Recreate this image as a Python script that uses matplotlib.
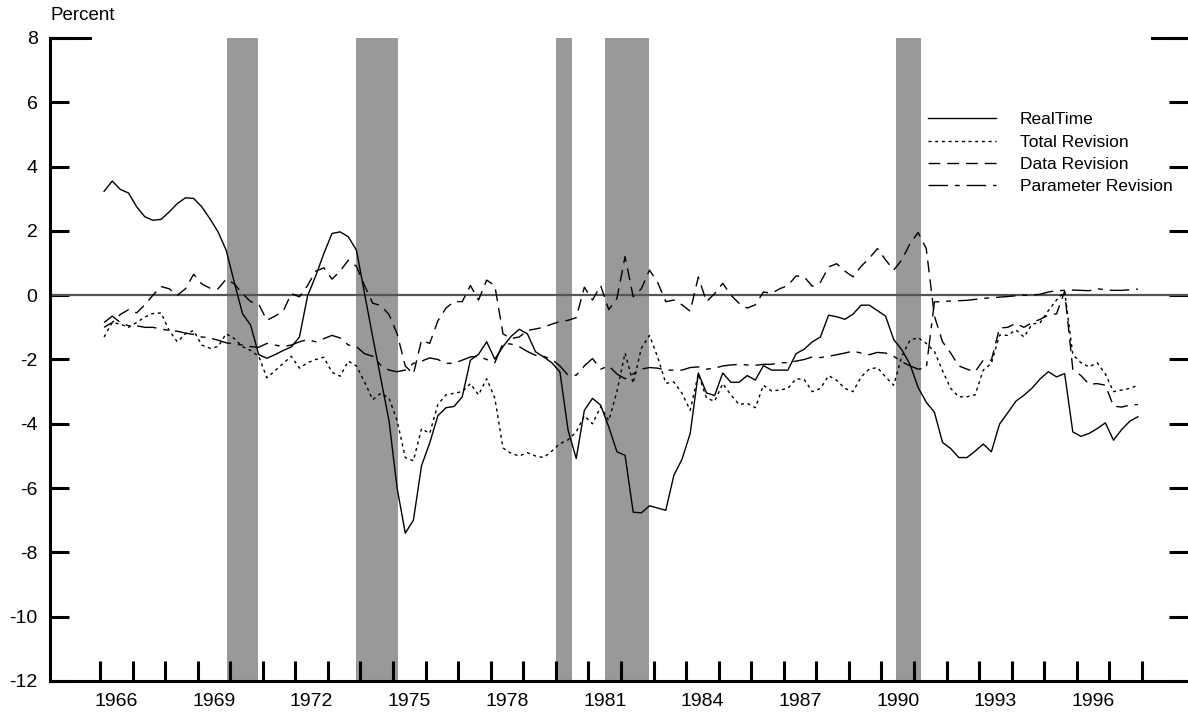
import matplotlib
matplotlib.use("Agg")
import matplotlib.pyplot as plt
import matplotlib.transforms as mtransforms
import numpy as np

plt.rcParams['font.family'] = ['Liberation Sans', 'DejaVu Sans']
plt.rcParams['lines.scale_dashes'] = False

# quarterly data, 1966Q1 - 1997Q4
start_year = 1966

realtime = [3.23, 3.55, 3.29, 3.18, 2.75, 2.44, 2.33, 2.36, 2.59, 2.85, 3.03, 3.01,
            2.75, 2.38, 1.97, 1.40, 0.40, -0.57, -0.93, -1.85, -1.96, -1.85, -1.72, -1.61,
            -1.30, -0.02, 0.60, 1.30, 1.92, 1.97, 1.82, 1.40, 0.05, -1.30, -2.60, -3.90,
            -6.00, -7.40, -7.00, -5.30, -4.60, -3.75, -3.50, -3.46, -3.16, -2.02, -1.84, -1.45,
            -1.99, -1.60, -1.28, -1.06, -1.20, -1.76, -1.92, -2.10, -2.39, -4.20, -5.08, -3.58,
            -3.21, -3.42, -4.10, -4.87, -4.98, -6.75, -6.77, -6.55, -6.62, -6.69, -5.60, -5.10,
            -4.30, -2.42, -3.04, -3.12, -2.42, -2.71, -2.71, -2.50, -2.64, -2.19, -2.33, -2.33,
            -2.33, -1.82, -1.68, -1.45, -1.30, -0.62, -0.67, -0.75, -0.59, -0.31, -0.31, -0.48,
            -0.65, -1.38, -1.70, -2.15, -2.87, -3.33, -3.64, -4.58, -4.77, -5.05, -5.05, -4.85,
            -4.63, -4.87, -4.01, -3.66, -3.30, -3.11, -2.89, -2.60, -2.38, -2.54, -2.44, -4.25,
            -4.39, -4.30, -4.15, -3.97, -4.51, -4.18, -3.92, -3.78]

total_rev = [-1.30, -0.85, -0.90, -1.00, -0.85, -0.68, -0.57, -0.55, -1.10, -1.45, -1.20, -1.10,
             -1.55, -1.65, -1.60, -1.20, -1.35, -1.60, -1.72, -1.90, -2.57, -2.35, -2.12, -1.90,
             -2.27, -2.10, -2.00, -1.93, -2.40, -2.52, -2.05, -2.20, -2.70, -3.25, -3.05, -3.20,
             -3.90, -5.05, -5.15, -4.15, -4.30, -3.40, -3.10, -3.05, -3.00, -2.75, -3.10, -2.60,
             -3.20, -4.75, -4.92, -5.00, -4.90, -5.00, -5.05, -4.85, -4.62, -4.50, -4.25, -3.75,
             -4.00, -3.47, -3.90, -3.00, -1.80, -2.74, -1.65, -1.25, -1.92, -2.74, -2.70, -3.05,
             -3.58, -2.45, -3.20, -3.30, -2.75, -3.10, -3.40, -3.36, -3.50, -2.80, -2.98, -2.95,
             -2.90, -2.60, -2.62, -3.00, -2.90, -2.50, -2.65, -2.90, -3.00, -2.54, -2.30, -2.25,
             -2.54, -2.80, -1.90, -1.40, -1.32, -1.50, -1.75, -2.35, -2.90, -3.16, -3.16, -3.10,
             -2.33, -2.12, -1.24, -1.25, -1.08, -1.30, -0.90, -0.85, -0.48, -0.15, 0.12, -1.85,
             -2.10, -2.23, -2.10, -2.45, -3.00, -2.95, -2.90, -2.80]

data_rev = [-1.00, -0.85, -0.60, -0.45, -0.55, -0.30, 0.00, 0.27, 0.20, 0.00, 0.20, 0.65,
            0.35, 0.22, 0.20, 0.50, 0.35, 0.05, -0.20, -0.28, -0.78, -0.65, -0.50, 0.05,
            -0.05, 0.30, 0.75, 0.85, 0.50, 0.75, 1.09, 0.90, 0.30, -0.25, -0.32, -0.60,
            -1.20, -2.20, -2.45, -1.40, -1.50, -0.80, -0.40, -0.20, -0.20, 0.30, -0.15, 0.47,
            0.30, -1.20, -1.35, -1.30, -1.10, -1.05, -1.00, -0.90, -0.82, -0.78, -0.70, 0.25,
            -0.15, 0.30, -0.45, -0.10, 1.20, -0.05, 0.20, 0.78, 0.40, -0.20, -0.15, -0.30,
            -0.50, 0.57, -0.20, 0.05, 0.37, 0.00, -0.25, -0.40, -0.30, 0.10, 0.06, 0.20,
            0.30, 0.60, 0.57, 0.28, 0.40, 0.88, 0.98, 0.75, 0.57, 0.90, 1.15, 1.45,
            1.10, 0.78, 1.10, 1.60, 1.95, 1.45, -0.65, -1.45, -1.80, -2.20, -2.30, -2.38,
            -2.02, -2.02, -1.02, -1.00, -0.88, -1.00, -0.85, -0.75, -0.62, -0.58, 0.12, -2.30,
            -2.50, -2.77, -2.75, -2.80, -3.45, -3.48, -3.42, -3.40]

param_rev = [-0.85, -0.65, -0.85, -0.95, -0.95, -1.00, -1.00, -1.05, -1.10, -1.12, -1.18, -1.22,
             -1.30, -1.33, -1.40, -1.48, -1.52, -1.55, -1.60, -1.62, -1.50, -1.55, -1.60, -1.55,
             -1.45, -1.38, -1.45, -1.35, -1.25, -1.33, -1.55, -1.60, -1.82, -1.90, -2.18, -2.33,
             -2.38, -2.33, -2.12, -2.05, -1.95, -2.00, -2.12, -2.12, -2.02, -1.92, -1.90, -2.00,
             -2.10, -1.50, -1.52, -1.60, -1.75, -1.87, -1.90, -2.00, -2.20, -2.49, -2.49, -2.20,
             -1.97, -2.30, -2.20, -2.45, -2.60, -2.45, -2.30, -2.25, -2.27, -2.33, -2.33, -2.33,
             -2.25, -2.23, -2.30, -2.27, -2.20, -2.17, -2.15, -2.17, -2.18, -2.15, -2.15, -2.10,
             -2.10, -2.05, -2.00, -1.92, -1.94, -1.90, -1.85, -1.80, -1.74, -1.80, -1.85, -1.78,
             -1.80, -1.90, -2.07, -2.20, -2.30, -2.27, -0.21, -0.20, -0.18, -0.17, -0.16, -0.13,
             -0.10, -0.08, -0.06, -0.04, -0.02, 0.00, 0.00, 0.03, 0.10, 0.14, 0.15, 0.16,
             0.15, 0.14, 0.20, 0.17, 0.15, 0.15, 0.17, 0.19]

recessions = [(1969.9, 1970.85), (1973.85, 1975.15), (1980.0, 1980.5),
              (1981.5, 1982.85), (1990.45, 1991.2)]

label_years = [1966, 1969, 1972, 1975, 1978, 1981, 1984, 1987, 1990, 1993, 1996]
year_ticks = list(range(1966, 1999))
y_ticks = [8, 6, 4, 2, 0, -2, -4, -6, -8, -10, -12]

quarters = start_year + 0.125 + np.arange(len(realtime)) / 4.0

fig = plt.figure(figsize=(11.88, 7.16), dpi=100)
ax = fig.add_axes([50 / 1188, 35 / 716, 1138 / 1188, 643 / 716])

for a, b in recessions:
    ax.axvspan(a, b, color='#999999', lw=0, zorder=1)

ax.axhline(0, color='#555555', lw=1.6, zorder=2)

ax.plot(quarters, realtime, color='black', lw=1.0, label='RealTime', zorder=3)
ax.plot(quarters, total_rev, color='black', lw=1.0, dashes=(2.2, 2.6), label='Total Revision', zorder=3)
ax.plot(quarters, data_rev, color='black', lw=1.0, dashes=(8.5, 5.0), label='Data Revision', zorder=3)
ax.plot(quarters, param_rev, color='black', lw=1.0, dashes=(14, 5, 3.5, 5), label='Parameter Revision', zorder=3)

ax.set_xlim(1964.4645, 1999.413)
ax.set_ylim(-12, 8)

ax.spines['top'].set_visible(False)
ax.spines['right'].set_visible(False)
ax.spines['left'].set_linewidth(2.2)
ax.spines['bottom'].set_linewidth(2.2)

ax.set_yticks(y_ticks)
ax.set_yticklabels([str(v) for v in y_ticks])
ax.tick_params(axis='y', direction='in', length=14, width=2.2, left=True, right=True,
               labelsize=14, pad=9)

ax.set_xticks(year_ticks)
ax.set_xticklabels([])
ax.set_xticks([y + 0.5 for y in label_years], minor=True)
ax.set_xticklabels([str(y) for y in label_years], minor=True)
ax.tick_params(axis='x', which='major', direction='in', length=14.5, width=2.2)
ax.tick_params(axis='x', which='minor', length=0, labelsize=14, pad=9)

# longer marks at the top of the scale
trans = mtransforms.blended_transform_factory(ax.transAxes, ax.transData)
ax.plot([0, 40 / 1138], [8, 8], color='black', lw=2.2, transform=trans, clip_on=False)
ax.plot([1102 / 1138, 1], [8, 8], color='black', lw=2.2, transform=trans, clip_on=False)

fig.text(50 / 1188, 1 - 16 / 716, 'Percent', fontsize=13.5, va='center', ha='left')

ax.legend(loc='upper left', bbox_to_anchor=(928 / 1188, 1 - 112 / 716),
          bbox_transform=fig.transFigure, frameon=False, fontsize=12.5,
          handlelength=3.9, handletextpad=1.4, labelspacing=0.42,
          borderpad=0, borderaxespad=0)

fig.savefig('out.png', dpi=100)
